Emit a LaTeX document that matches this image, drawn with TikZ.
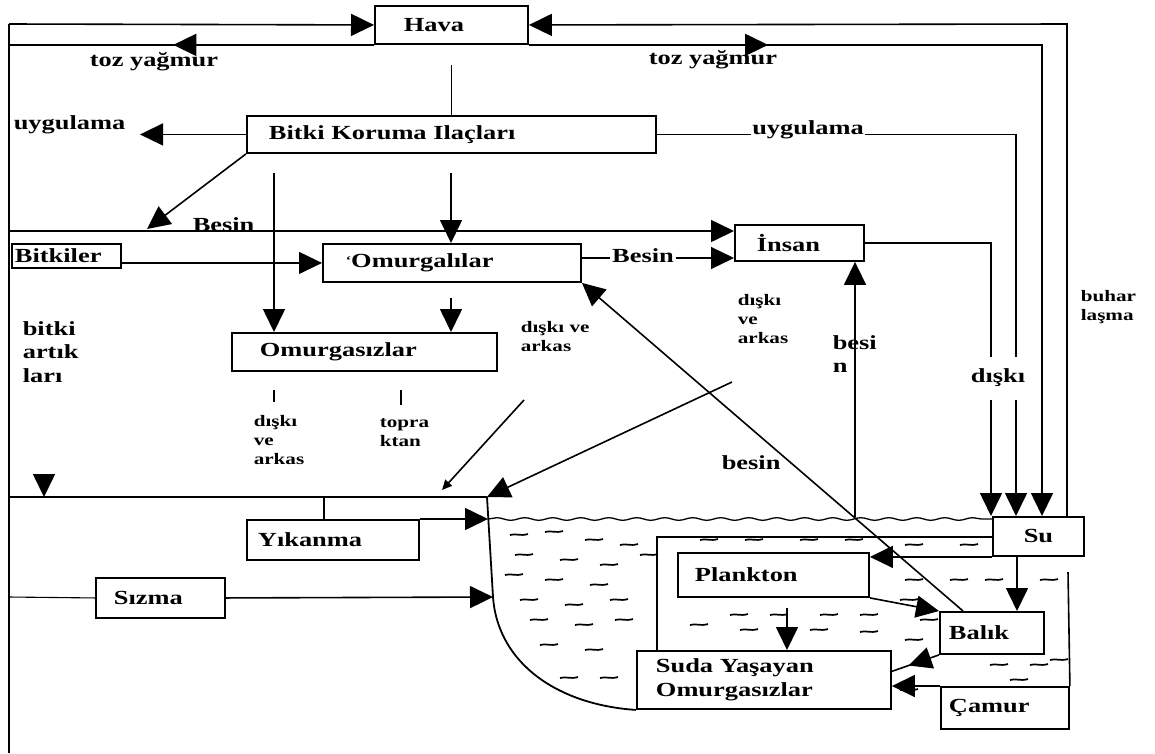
\documentclass[tikz,border=0pt]{standalone}
\usepackage{fontspec}
\setmainfont{Liberation Serif}[FakeStretch=1.32]
\usetikzlibrary{arrows.meta,decorations.pathmorphing,decorations.markings}
\begin{document}
\begin{tikzpicture}[x=1pt,y=-1pt,
  line width=1.6pt,
  bigtxt/.style={font=\bfseries\fontsize{20pt}{23.5pt}\selectfont},
  smalltxt/.style={font=\bfseries\fontsize{16pt}{19pt}\selectfont},
  box/.style={draw, line width=1.9pt, bigtxt, anchor=north west, inner ysep=0pt, align=left},
  arr/.style={-{Triangle[length=23pt,width=22pt]}},
  midarr/.style={postaction={decorate,decoration={markings,mark=at position #1 with {\arrow{Triangle[length=23pt,width=22pt]}}}}},
  lbl/.style={anchor=west, align=left, inner sep=0pt},
]
\useasboundingbox (0,0) rectangle (1155,753);

% boxes
\node[box, text width=95pt, inner xsep=29pt, minimum height=38pt] (hava) at (374,5) {Hava};
\node[box, text width=365pt, inner xsep=22pt, minimum height=37pt] (bk) at (246,115) {\raisebox{-5pt}{Bitki Koruma Ilaçları}};
\node[box, text width=103pt, inner xsep=3pt, minimum height=24pt] (bitkiler) at (11,243) {Bitkiler};
\node[box, text width=212pt, inner xsep=23pt, minimum height=38pt] (omurgalilar) at (322,243) {{\fontsize{12pt}{12pt}\selectfont\raisebox{3pt}{‘}}Omurgalılar};
\node[box, text width=85pt, inner xsep=22pt, minimum height=36pt] (insan) at (734,224) {İnsan};
\node[box, text width=209pt, inner xsep=28pt, minimum height=38pt] (omurgasizlar) at (231,332) {Omurgasızlar};
\node[box, text width=150pt, inner xsep=11pt, minimum height=40pt] (yikanma) at (246,519) {Yıkanma};
\node[box, text width=93pt, inner xsep=18pt, minimum height=40pt] (sizma) at (95,577) {Sızma};
\node[box, text width=157pt, inner xsep=17pt, minimum height=44pt] (plankton) at (677,552) {Plankton};
\node[box, text width=86pt, inner xsep=9pt, minimum height=42pt] (balik) at (939,611) {Balık};
\node[box, text width=216pt, inner xsep=19pt, minimum height=58pt] (suda) at (636,650) {Suda Yaşayan\\Omurgasızlar};
\node[box, text width=112pt, inner xsep=8pt, minimum height=42pt] (camur) at (940,686) {Çamur};
\node[box, text width=91pt, inner xsep=0pt, minimum height=39pt, align=center] (su) at (992,516) {Su};

% coordinates
\coordinate (tl) at (9,24);
\coordinate (bl) at (9,753);
\coordinate (hl2) at (9,42);
\coordinate (tr) at (1067,24);
\coordinate (wr) at (1068,572);
\coordinate (x1042) at (1042,41);
\coordinate (x1016) at (1016,0);
\coordinate (x991) at (991,0);
\coordinate (hk) at (451,65);
\coordinate (ul) at (140,133);
\coordinate (bs) at (147,229);
\coordinate (d1) at (274,173);
\coordinate (d2) at (451,173);
\coordinate (d3) at (451,298);
\coordinate (b1) at (9,231);
\coordinate (oi) at (0,258);
\coordinate (t1a) at (274,390);
\coordinate (t1b) at (274,402);
\coordinate (t2a) at (401,390);
\coordinate (t2b) at (401,405);
\coordinate (sa1) at (524,400);
\coordinate (sa2) at (442,490);
\coordinate (lk) at (487,497);
\coordinate (ra) at (732,382);
\coordinate (lh) at (9,497);
\coordinate (ba1) at (44,474);
\coordinate (ba2) at (44,497);
\coordinate (yk) at (324,497);
\coordinate (ls1) at (488,519);
\coordinate (sl) at (9,597);
\coordinate (ls2) at (493,597);
\coordinate (ir) at (657,537);
\coordinate (ps) at (787,608);
\coordinate (sb) at (1017,0);
\coordinate (bsd) at (890,672);
\coordinate (bd) at (963,611);
\coordinate (bu) at (855,517);

% outer frame
\draw (tl) -- (bl);
\draw[arr] (tl) -- (hava.west);
\draw[midarr=0.55] (hava.south west) -- (hava.south west -| hl2);
\draw[arr] (su.north -| tr) -- (tr) -- (hava.east);
\draw (wr) -- (camur.north east);
\draw[arr, midarr=0.243] (hava.south east) -- (hava.south east -| x1042) -- (su.north -| x1042);

% from Hava / Bitki Koruma
\draw[line width=1pt] (hk) -- (bk.north -| hk);
\draw[arr] (bk.west) -- (bk.west -| ul);
\draw[arr] (bk.east) -- (bk.east -| x1016) -- (su.north -| x1016);
\draw[arr] (bk.south west) -- (bs);
\draw[arr] (d1) -- (omurgasizlar.north -| d1);
\draw[arr] (d2) -- (omurgalilar.north -| d2);
\draw[arr] (d3) -- (omurgasizlar.north -| d3);

% food lines
\draw[arr] (b1) -- (b1 -| insan.west);
\draw[arr, line width=1.1pt] (bitkiler.east |- omurgalilar.west) -- (omurgalilar.west);
\draw[arr, line width=1.1pt] (omurgalilar.east |- oi) -- (insan.west |- oi);
\draw (t1a) -- (t1b);
\draw (t2a) -- (t2b);
\draw[-{Triangle[length=10pt,width=9pt]}] (sa1) -- (sa2);
\draw[arr] (ra) -- (lk);
\draw (lh) -- (lk);
\draw[arr] (ba1) -- (ba2);

% runoff
\draw[line width=1.1pt] (yk) -- (yikanma.north -| yk);
\draw[arr] (yikanma.north east) -- (ls1);
\draw[line width=1.1pt] (sl) -- (sizma.west);
\draw[arr] (sizma.east) -- (ls2);

% lake
\draw[line width=1.8pt] (lk) -- (ls2) .. controls (498,665) and (560,705) .. (suda.south west);
\draw[decorate, decoration={snake, amplitude=1.3pt, segment length=28pt}, line width=1.3pt] (ls1) -- (su.west |- ls1);
\draw (suda.north -| ir) -- (ir) -- (su.west |- ir);
\draw[arr] (su.south west) -- (su.south west -| plankton.east);
\draw[arr] (ps) -- (suda.north -| ps);
\draw[arr] (plankton.south east) -- (balik.north west);
\draw[arr] (su.south -| sb) -- (balik.north -| sb);
\draw[midarr=0.62] (balik.south west) -- (bsd);
\draw[arr] (camur.north west) -- (camur.north west -| suda.east);
\draw[arr] (bd) -- (omurgalilar.south east);
\draw[arr] (bu) -- (insan.south -| bu);
\draw[arr] (insan.east) -- (insan.east -| x991) -- (su.north -| x991);

% water dashes
\foreach \px/\py in {510/535,545/532,585/540,620/545,515/555,560/560,600/565,640/555,505/575,545/580,590/585,520/600,565/605,610/600,530/620,575/625,615/620,540/645,585/650,600/678,560/678,
  700/540,745/540,800/540,845/540,905/545,960/545,
  905/580,950/580,985/580,1040/580,
  900/600,920/620,905/640,
  730/615,770/615,820/615,860/615,690/625,740/630,810/630,860/632,
  900/690,990/665,1030/665,1010/680,1050/660}
  \draw[line width=1.7pt] (\px,\py) .. controls (\px+6,\py-2) and (\px+10,\py+1.5) .. (\px+18,\py-1);

% labels
\node[lbl, bigtxt] (tozl) at (89,62) {toz yağmur};
\node[lbl, bigtxt] (tozr) at (648,60) {toz yağmur};
\node[lbl, bigtxt] (ugl) at (13,125) {uygulama};
\node[bigtxt, fill=white, inner sep=1pt] (ugr) at (808,130) {uygulama};
\node[bigtxt, anchor=base west, inner sep=0pt] (besin1) at (192,231) {Besin};
\node[bigtxt, anchor=base, fill=white, inner xsep=2pt, inner ysep=0pt] (besin2) at (643,262) {Besin};
\node[lbl, bigtxt] (bitkiart) at (22,352) {bitki\\artık\\ları};
\node[lbl, smalltxt] (diskia) at (253,440) {dışkı\\ve\\arkas};
\node[lbl, smalltxt] (toprak) at (379,433) {topra\\ktan};
\node[lbl, smalltxt] (diskib) at (520,337) {dışkı ve\\arkas};
\node[lbl, smalltxt] (diskic) at (737,319) {dışkı\\ve\\arkas};
\node[lbl, bigtxt] (besin3) at (832,354) {besi\\n};
\node[lbl, bigtxt] (besin4) at (721,463) {besin};
\node[bigtxt, fill=white, inner xsep=1pt, minimum height=43pt] (diskid) at (998,378) {dışkı};
\node[lbl, smalltxt] (buhar) at (1080,307) {buhar\\laşma};
\end{tikzpicture}
\end{document}
